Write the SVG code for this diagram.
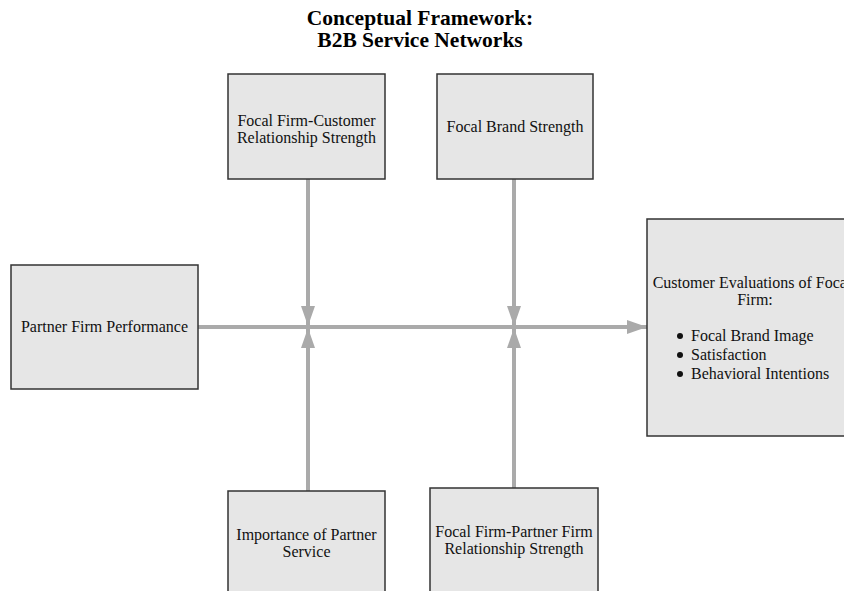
<svg xmlns="http://www.w3.org/2000/svg" width="844" height="591" viewBox="0 0 844 591">
<style>
.box{fill:#e6e6e6;stroke:#333;stroke-width:1.5}
.t{font-family:"Liberation Serif","Times New Roman",serif;font-size:16px;fill:#111;text-anchor:middle}
.l{text-anchor:start}
.title{font-family:"Liberation Serif","Times New Roman",serif;font-size:21.5px;font-weight:bold;fill:#000;text-anchor:middle}
.c{stroke:#aaaaaa;stroke-width:4;fill:none}
</style>
<defs>
<marker id="ah" viewBox="0 0 20 14" refX="20" refY="7" markerWidth="20" markerHeight="14" markerUnits="userSpaceOnUse" orient="auto">
<path d="M0,0 L20,7 L0,14 Z" fill="#aaaaaa"/>
</marker>
</defs>
<rect width="844" height="591" fill="#fff"/>
<text class="title" x="420" y="25">Conceptual Framework:</text>
<text class="title" x="420" y="47">B2B Service Networks</text>
<g id="connectors">
<line class="c" x1="198" y1="327" x2="647" y2="327" marker-end="url(#ah)"/>
<line class="c" x1="308" y1="179" x2="308" y2="326" marker-end="url(#ah)"/>
<line class="c" x1="514" y1="179" x2="514" y2="326" marker-end="url(#ah)"/>
<line class="c" x1="308" y1="491" x2="308" y2="328" marker-end="url(#ah)"/>
<line class="c" x1="514" y1="488" x2="514" y2="328" marker-end="url(#ah)"/>
</g>
<g id="n-customer-rel">
<rect class="box" x="228" y="74" width="157" height="105"/>
<text class="t" x="306.5" y="126">Focal Firm-Customer</text>
<text class="t" x="306.5" y="143">Relationship Strength</text>
</g>
<g id="n-brand">
<rect class="box" x="437" y="74" width="156" height="105"/>
<text class="t" x="515" y="132">Focal Brand Strength</text>
</g>
<g id="n-partner-perf">
<rect class="box" x="11" y="265" width="187" height="124"/>
<text class="t" x="104.5" y="332">Partner Firm Performance</text>
</g>
<g id="n-evaluations">
<rect class="box" x="647" y="219" width="212" height="217"/>
<text class="t" x="752" y="288">Customer Evaluations of Focal</text>
<text class="t" x="755" y="305">Firm:</text>
<circle cx="680" cy="336" r="3" fill="#111"/>
<circle cx="680" cy="355" r="3" fill="#111"/>
<circle cx="680" cy="374" r="3" fill="#111"/>
<text class="t l" x="691" y="341">Focal Brand Image</text>
<text class="t l" x="691" y="360">Satisfaction</text>
<text class="t l" x="691" y="379">Behavioral Intentions</text>
</g>
<g id="n-importance">
<rect class="box" x="228" y="491" width="157" height="110"/>
<text class="t" x="306.5" y="540">Importance of Partner</text>
<text class="t" x="306.5" y="557">Service</text>
</g>
<g id="n-partner-rel">
<rect class="box" x="430" y="488" width="168" height="110"/>
<text class="t" x="514" y="537">Focal Firm-Partner Firm</text>
<text class="t" x="514" y="554">Relationship Strength</text>
</g>
</svg>
